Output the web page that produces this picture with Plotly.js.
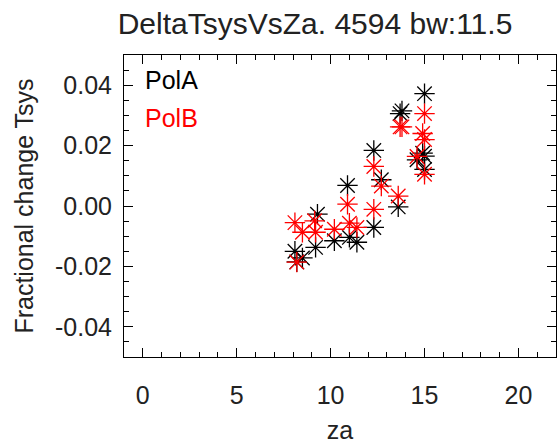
<!DOCTYPE html>
<html>
<head>
<meta charset="utf-8">
<script src="https://cdn.plot.ly/plotly-3.0.1.min.js"></script>
<style>html,body{margin:0;padding:0;background:#fff;}#chart{width:558px;height:444px;}</style>
</head>
<body>
<div id="chart"></div>
<script>
// Zenith angle (deg) and fractional Tsys change
const zaA  = [8.1, 8.2, 8.5, 9.2, 9.3, 10.2, 10.9, 11.0, 11.4, 12.3, 12.3, 12.7, 13.6, 13.7, 13.8, 14.6, 14.9, 15.0, 15.0, 15.0];
const polA = [-0.015, -0.0185, -0.0172, -0.0137, -0.0027, -0.0115, 0.0068, -0.0104, -0.012, 0.0184, -0.0071, 0.0087, -0.0003, 0.0306, 0.0315, 0.0153, 0.0175, 0.0372, 0.0121, 0.0165];
const zaB  = [8.1, 8.2, 8.5, 9.2, 9.15, 10.2, 10.9, 11.0, 11.4, 12.3, 12.3, 12.7, 13.6, 13.7, 13.8, 14.6, 14.9, 15.0, 15.0, 15.0];
const polB = [-0.0055, -0.0186, -0.0087, -0.0087, -0.0049, -0.0077, 0.0006, -0.0057, -0.0071, 0.0131, -0.0011, 0.0066, 0.0033, 0.0262, 0.0262, 0.0164, 0.0240, 0.0306, 0.0105, 0.0220];
const legendLabels = ["PolA", "PolB"];
const xTicks = [0, 5, 10, 15, 20];
const yTicks = [-0.04, -0.02, 0.00, 0.02, 0.04];

const FONT = "Liberation Sans, Arial, Helvetica, sans-serif";
const TXT = "#222";

const mk = (c) => ({symbol: "asterisk-open", size: 17, color: c, line: {color: c, width: 1.3}});

const traces = [
  {x: zaA, y: polA, type: "scatter", mode: "markers", name: legendLabels[0], marker: mk("#000000"), showlegend: false, cliponaxis: true},
  {x: zaB, y: polB, type: "scatter", mode: "markers", name: legendLabels[1], marker: mk("#ff0000"), showlegend: false, cliponaxis: true}
];

const axisCommon = {
  showgrid: false, zeroline: false, showline: true, linecolor: "#000", linewidth: 1,
  mirror: "allticks", ticks: "inside", ticklen: 9, tickwidth: 1, tickcolor: "#000",
  tickfont: {family: FONT, size: 25, color: TXT}
};

const layout = {
  width: 558, height: 444,
  margin: {l: 124, r: 2, t: 55, b: 87, pad: 0},
  paper_bgcolor: "#fff", plot_bgcolor: "#fff",
  showlegend: false,
  title: {text: "DeltaTsysVsZa. 4594 bw:11.5", font: {family: FONT, size: 30, color: TXT},
          xref: "container", x: 315/558, xanchor: "center", yref: "container", y: 1 - 34/444, yanchor: "bottom"},
  xaxis: Object.assign({}, axisCommon, {
    range: [-1, 22], tickmode: "array", tickvals: xTicks, ticktext: xTicks.map(String),
    ticklabelstandoff: 16,
    minor: {ticks: "inside", ticklen: 5, tickwidth: 1, tickcolor: "#000", dtick: 1, tick0: 0, showgrid: false},
    title: {text: "za", font: {family: FONT, size: 25, color: TXT}, standoff: 17}
  }),
  yaxis: Object.assign({}, axisCommon, {
    range: [-0.05, 0.05], tickmode: "array", tickvals: yTicks, ticktext: yTicks.map(v => v.toFixed(2)),
    ticklabelstandoff: 6,
    minor: {ticks: "inside", ticklen: 5, tickwidth: 1, tickcolor: "#000", dtick: 0.005, tick0: 0, showgrid: false},
    title: {text: "Fractional change Tsys", font: {family: FONT, size: 25, color: TXT}, standoff: 14}
  }),
  annotations: [
    {text: legendLabels[0], xref: "paper", yref: "paper", x: 19/432, y: 1 - 25/302, xanchor: "left", yanchor: "middle", showarrow: false, font: {family: FONT, size: 25, color: "#000"}},
    {text: legendLabels[1], xref: "paper", yref: "paper", x: 19/432, y: 1 - 63/302, xanchor: "left", yanchor: "middle", showarrow: false, font: {family: FONT, size: 25, color: "#ff0000"}}
  ]
};

Plotly.newPlot("chart", traces, layout, {displayModeBar: false, staticPlot: true});
</script>
</body>
</html>
